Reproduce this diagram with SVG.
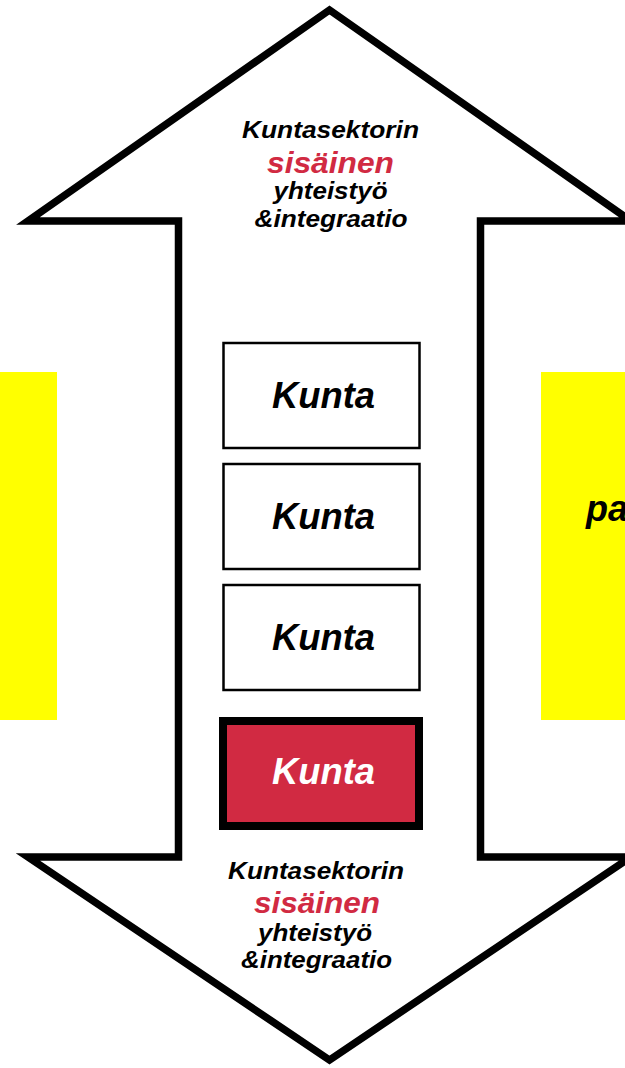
<svg xmlns="http://www.w3.org/2000/svg" width="625" height="1068" viewBox="0 0 625 1068">
<style>
text{font-family:"Liberation Sans",Arial,sans-serif;font-weight:bold;font-style:italic;text-anchor:middle}
.lbl{font-size:24px;fill:#000}
.red{font-size:30px;fill:#D12A42}
.k{font-size:36px;fill:#000}
.box{fill:#fff;stroke:#000;stroke-width:2.5}
.yel{fill:#FFFF00;stroke:none}
</style>
<rect width="625" height="1068" fill="#fff"/>
<g id="left-panel"><rect class="yel" x="0" y="372" width="57" height="348"/></g>
<g id="right-panel"><rect class="yel" x="541" y="372" width="90" height="348"/>
<text x="586" y="521" style="font-size:36px;text-anchor:start">pa</text></g>
<g id="arrow">
<polygon points="329.5,10 631,221 480.5,221 480.5,857 631,857 329.5,1060 28,857 178.5,857 178.5,221 28,221" fill="#fff" stroke="#000" stroke-width="7.5" stroke-linejoin="miter" stroke-miterlimit="10"/>
</g>
<g id="top-label">
<text class="lbl" x="330.5" y="138" textLength="177" lengthAdjust="spacingAndGlyphs">Kuntasektorin</text>
<text class="red" x="330.5" y="173" textLength="127" lengthAdjust="spacingAndGlyphs">sisäinen</text>
<text class="lbl" x="330.5" y="199" textLength="114" lengthAdjust="spacingAndGlyphs">yhteistyö</text>
<text class="lbl" x="331" y="227" textLength="153" lengthAdjust="spacingAndGlyphs">&amp;integraatio</text>
</g>
<g id="bottom-label">
<text class="lbl" x="316" y="879" textLength="176" lengthAdjust="spacingAndGlyphs">Kuntasektorin</text>
<text class="red" x="317" y="913" textLength="126" lengthAdjust="spacingAndGlyphs">sisäinen</text>
<text class="lbl" x="315" y="941" textLength="114" lengthAdjust="spacingAndGlyphs">yhteistyö</text>
<text class="lbl" x="316.5" y="968" textLength="151" lengthAdjust="spacingAndGlyphs">&amp;integraatio</text>
</g>
<g id="kunta1"><rect class="box" x="223.5" y="343" width="196" height="105"/>
<text class="k" x="323.5" y="408" textLength="103" lengthAdjust="spacingAndGlyphs">Kunta</text></g>
<g id="kunta2"><rect class="box" x="223.5" y="464" width="196" height="105"/>
<text class="k" x="323.5" y="529" textLength="103" lengthAdjust="spacingAndGlyphs">Kunta</text></g>
<g id="kunta3"><rect class="box" x="223.5" y="585" width="196" height="105"/>
<text class="k" x="323.5" y="650" textLength="103" lengthAdjust="spacingAndGlyphs">Kunta</text></g>
<g id="kunta4"><rect x="223" y="721" width="196" height="105" fill="#D12A42" stroke="#000" stroke-width="8"/>
<text class="k" x="323.5" y="784" textLength="103" lengthAdjust="spacingAndGlyphs" style="fill:#fff">Kunta</text></g>
</svg>
